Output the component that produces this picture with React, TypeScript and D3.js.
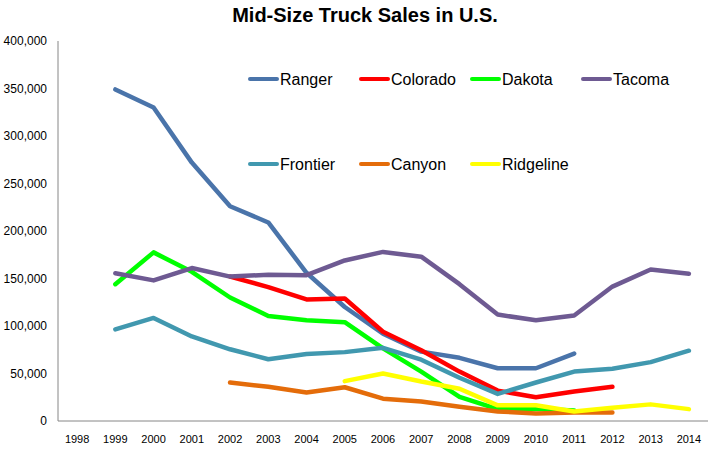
import React, { useEffect } from "react";
import * as d3 from "d3";

const years = [1998, 1999, 2000, 2001, 2002, 2003, 2004, 2005, 2006, 2007, 2008, 2009, 2010, 2011, 2012, 2013, 2014];
const yTicks = [0, 50000, 100000, 150000, 200000, 250000, 300000, 350000, 400000];

const ranger = [null, 349000, 330000, 272000, 226000, 209000, 156000, 120000, 92000, 73000, 66500, 55500, 55500, 71000, null, null, null];
const colorado = [null, null, null, null, 152000, 141000, 128000, 129000, 94000, 74500, 52000, 32000, 25000, 31000, 36000, null, null];
const dakota = [null, 144000, 177500, 157000, 130000, 110500, 106000, 104000, 76500, 52000, 25500, 12500, 13000, 11000, null, null, null];
const tacoma = [null, 155500, 148000, 161000, 152000, 154000, 153500, 169000, 178000, 173000, 144000, 112000, 106000, 111000, 141500, 159500, 155000];
const frontier = [null, 96500, 108500, 89000, 75500, 65000, 70500, 72500, 77000, 64500, 45500, 28500, 40500, 52000, 55000, 62000, 74000];
const canyon = [null, null, null, null, 40500, 36000, 30000, 35500, 23500, 20500, 15000, 10000, 8000, 9000, 9000, null, null];
const ridgeline = [null, null, null, null, null, null, null, 42000, 50000, 41500, 34000, 16500, 16500, 10000, 14000, 17500, 12500];

const seriesNames = ["Ranger", "Colorado", "Dakota", "Tacoma", "Frontier", "Canyon", "Ridgeline"];
const seriesValues = [ranger, colorado, dakota, tacoma, frontier, canyon, ridgeline];
const seriesColors = ["#4A74AA", "#FF0000", "#00FF00", "#6E5A92", "#4198AF", "#E46C0A", "#FFFF00"];

export default function App() {
  useEffect(() => {
    document.body.style.margin = "0";
  }, []);

  const W = 716, H = 452;
  const x = d3.scaleBand<number>().domain(years).range([58, 708]).padding(0);
  const y = d3.scaleLinear().domain([0, 400000]).range([421, 41]);
  const cx = (yr: number) => (x(yr) as number) + x.bandwidth() / 2;

  const line = d3
    .line<number | null>()
    .defined((d) => d !== null)
    .x((_, i) => cx(years[i]))
    .y((d) => y(d as number));

  const fmt = d3.format(",");
  const font = "'Liberation Sans', Arial, sans-serif";

  const legendCols = [250, 361, 472, 583];
  const legendRows = [79, 164];

  return (
    <svg width={W} height={H} style={{ display: "block", background: "#fff" }} fontFamily={font}>
      <text x={365} y={22} textAnchor="middle" fontSize={20} fontWeight="bold" fill="#000">
        Mid-Size Truck Sales in U.S.
      </text>
      {yTicks.map((t) => (
        <text key={t} x={47} y={y(t)} dy="0.35em" textAnchor="end" fontSize={12} fill="#000">
          {fmt(t)}
        </text>
      ))}
      {years.map((yr) => (
        <text key={yr} x={cx(yr)} y={439} dy="0.35em" textAnchor="middle" fontSize={11} fill="#000">
          {yr}
        </text>
      ))}
      <line x1={58} x2={58} y1={41} y2={421} stroke="#868686" strokeWidth={1} />
      <line x1={58} x2={708} y1={421} y2={421} stroke="#868686" strokeWidth={1} />
      {seriesNames.map((name, i) => (
        <path
          key={name}
          d={line(seriesValues[i]) || ""}
          fill="none"
          stroke={seriesColors[i]}
          strokeWidth={4.5}
          strokeLinejoin="round"
          strokeLinecap="round"
        />
      ))}
      {seriesNames.map((name, i) => {
        const lx = legendCols[i % 4];
        const ly = legendRows[Math.floor(i / 4)];
        return (
          <g key={name}>
            <line x1={lx} x2={lx + 27} y1={ly} y2={ly} stroke={seriesColors[i]} strokeWidth={4} strokeLinecap="round" />
            <text x={lx + 30} y={ly} dy="0.35em" fontSize={16} fill="#000">
              {name}
            </text>
          </g>
        );
      })}
    </svg>
  );
}
